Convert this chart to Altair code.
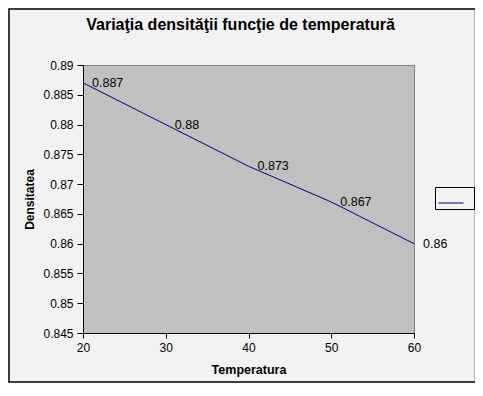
import altair as alt
import pandas as pd

temperatura = [20, 30, 40, 50, 60]
densitatea = [0.887, 0.88, 0.873, 0.867, 0.86]
y_ticks = [0.845, 0.85, 0.855, 0.86, 0.865, 0.87, 0.875, 0.88, 0.885, 0.89]
x_ticks = [20, 30, 40, 50, 60]
series = [" "] * len(temperatura)

df = pd.DataFrame({"t": temperatura, "d": densitatea, "s": series,
                   "lab": [f"{v:g}" for v in densitatea]})

FONT = "Liberation Sans"

x_enc = alt.X("t:Q", title="Temperatura",
              scale=alt.Scale(domain=[20, 60], nice=False, zero=False),
              axis=alt.Axis(values=x_ticks, grid=False, domainColor="black",
                            tickColor="black", tickSize=5, labelPadding=4,
                            labelFontSize=12, labelColor="black",
                            labelFlush=False, labelOverlap=False,
                            titleFontSize=12.5, titleFontWeight="bold",
                            titlePadding=10, titleColor="black", labelFont=FONT,
                            titleFont=FONT))
y_enc = alt.Y("d:Q", title="Densitatea",
              scale=alt.Scale(domain=[0.845, 0.89], nice=False, zero=False),
              axis=alt.Axis(values=y_ticks, format=".3~f", grid=False,
                            domainColor="black", tickColor="black", tickSize=6,
                            labelPadding=4, labelFontSize=12, labelColor="black",
                            labelFlush=False, labelOverlap=False,
                            titleFontSize=12, titleFontWeight="bold",
                            titlePadding=6, titleColor="black", labelFont=FONT,
                            titleFont=FONT))

line = alt.Chart(df).mark_line(strokeWidth=1).encode(
    x=x_enc, y=y_enc,
    color=alt.Color("s:N", scale=alt.Scale(range=["#000080"]),
                    legend=alt.Legend(title=None, orient="none", legendX=352,
                                      legendY=122, symbolType="stroke",
                                      symbolSize=625, symbolStrokeWidth=1,
                                      labelExpr="''", labelFontSize=6,
                                      padding=3, strokeColor="black",
                                      fillColor="#F2F2F2", labelOffset=7)),
)

labels = alt.Chart(df).mark_text(align="left", baseline="middle", dx=9,
                                 fontSize=12.5, font=FONT, color="black").encode(
    x=x_enc, y=y_enc, text="lab:N")

frame = alt.Chart(pd.DataFrame({"k": [0]})).mark_rect(
    fill=None, stroke="black", strokeWidth=1.5).encode(
    x=alt.value(-74), x2=alt.value(392.5), y=alt.value(-56), y2=alt.value(317))

chart = alt.layer(frame, line, labels).properties(
    width=331, height=268,
    title=alt.TitleParams("Variaţia densităţii funcţie de temperatură",
                          fontSize=16, font=FONT, fontWeight="bold",
                          color="black", offset=-25, dx=-8, anchor="middle"),
    autosize=alt.AutoSizeParams(type="none"),
    padding={"left": 75, "top": 57, "right": 61, "bottom": 50},
).configure(background="#F2F2F2").configure_view(
    fill="#C0C0C0", stroke="#808080", strokeWidth=1)

chart.save("out.html", embed_options={"renderer": "svg", "actions": False})
